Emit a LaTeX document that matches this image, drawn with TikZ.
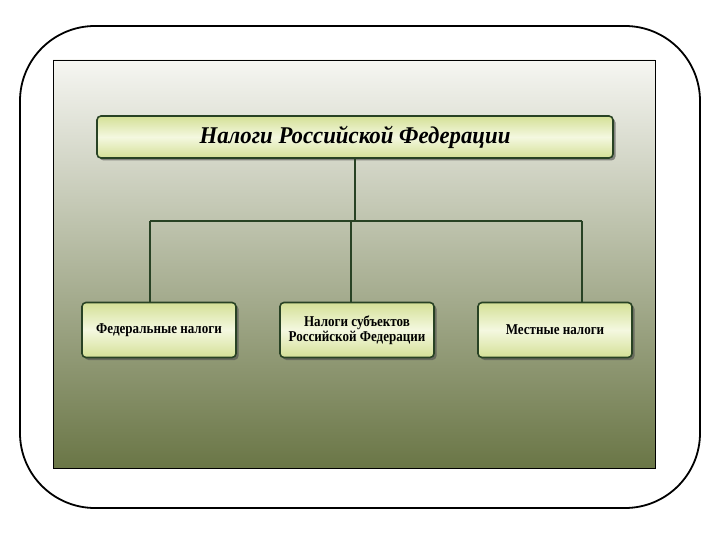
\documentclass[tikz,border=0pt]{standalone}
\usepackage{fontspec}
\setmainfont{Liberation Serif}
\newfontfamily\narrowserif[FakeStretch=0.87]{Liberation Serif}
\newfontfamily\titleserif[FakeStretch=0.95]{Liberation Serif}
\usetikzlibrary{shadows}
\definecolor{linegreen}{RGB}{40,66,36}
\definecolor{boxedge}{RGB}{212,224,150}
\definecolor{boxmid}{RGB}{244,248,224}
\definecolor{paneltop}{RGB}{246,246,242}
\definecolor{panelmid}{RGB}{192,200,174}
\definecolor{panelbot}{RGB}{106,118,70}
\tikzset{
  taxbox/.style={draw=linegreen, line width=1.6pt, rounded corners=4pt,
    top color=boxedge, bottom color=boxedge, middle color=boxmid,
    drop shadow={shadow xshift=2.5pt, shadow yshift=-2.5pt, fill=black!70, opacity=0.6},
    align=center, inner sep=2pt},
  subbox/.style={taxbox, minimum width=154pt, minimum height=55pt,
    font=\narrowserif\fontsize{15}{13}\selectfont\bfseries},
  link/.style={draw=linegreen, line width=1.6pt}
}

\begin{document}
\begin{tikzpicture}[x=1pt,y=-1pt]
    \useasboundingbox[fill=white] (0,0) rectangle (720,540);
    % frame and panel
    \draw[line width=1.8pt, rounded corners=75pt] (20,26) rectangle (700,508);
    \shade[top color=paneltop, middle color=panelmid, bottom color=panelbot] (53,60) rectangle (655,468);
    \draw[line width=0.6pt] (53,60) rectangle (655,468);

    % boxes
    \node[taxbox, minimum width=516pt, minimum height=42pt,
        font=\titleserif\fontsize{24}{26}\selectfont\bfseries\itshape] (taxes) at (355,137)
        {Налоги Российской Федерации};
    \node[subbox] (federal) at (159,330) {Федеральные налоги};
    \node[subbox] (regional) at (357,330) {Налоги субъектов\\Российской Федерации};
    \node[subbox] (local) at (555,330) {Местные налоги};

    % connectors
    \coordinate (busL) at (150,221);
    \coordinate (busM) at (351,221);
    \coordinate (busR) at (582,221);
    \draw[link] (taxes.south -| busM) ++(4,0) coordinate (top) -- (top |- busL);
    \draw[link] (busL) -- (busR);
    \draw[link] (busL) -- (busL |- federal.north);
    \draw[link] (busM) -- (busM |- regional.north);
    \draw[link] (busR) -- (busR |- local.north);
\end{tikzpicture}
\end{document}
